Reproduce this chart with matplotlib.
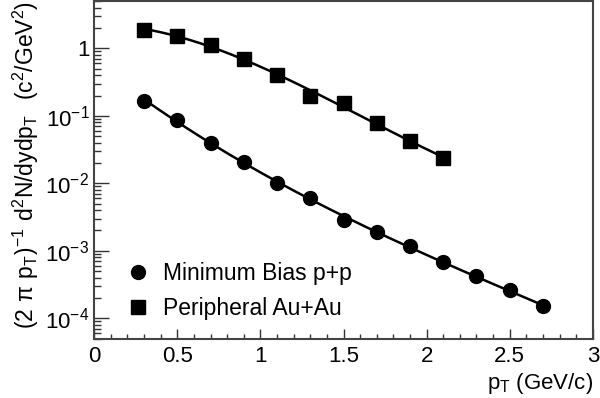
import matplotlib
matplotlib.use("Agg")
import matplotlib.pyplot as plt
from matplotlib.ticker import LogLocator, MultipleLocator, FuncFormatter, NullFormatter
from matplotlib.lines import Line2D
import numpy as np

plt.rcParams['font.family'] = ['Liberation Sans', 'DejaVu Sans']
plt.rcParams['mathtext.default'] = 'regular'

# data
pt_pp = [0.3, 0.5, 0.7, 0.9, 1.1, 1.3, 1.5, 1.7, 1.9, 2.1, 2.3, 2.5, 2.7]
y_pp = [0.164, 0.088, 0.040, 0.0207, 0.0101, 0.0060, 0.0029, 0.0019,
        0.00118, 0.00067, 0.00042, 0.00026, 0.00015]
pt_auau = [0.3, 0.5, 0.7, 0.9, 1.1, 1.3, 1.5, 1.7, 1.9, 2.1]
y_auau = [1.9, 1.5, 1.13, 0.70, 0.40, 0.20, 0.155, 0.077, 0.042, 0.024]

fig = plt.figure(figsize=(6.0, 3.98), dpi=100)
ax = fig.add_axes([0.157, 0.148, 0.831, 0.849])

# smooth fit curves (polynomial in log space) through each set
for xs, ys in [(pt_pp, y_pp), (pt_auau, y_auau)]:
    c = np.polyfit(xs, np.log10(ys), 3)
    xx = np.linspace(xs[0], xs[-1], 200)
    ax.plot(xx, 10 ** np.polyval(c, xx), '-', color='black', lw=1.8)

ax.plot(pt_pp, y_pp, 'o', color='black', ms=10)
ax.plot(pt_auau, y_auau, 's', color='black', ms=9.5)

ax.set_yscale('log')
ax.set_xlim(0, 3)
ax.set_ylim(4.9e-5, 5.0)

ax.xaxis.set_major_locator(MultipleLocator(0.5))
ax.xaxis.set_minor_locator(MultipleLocator(0.1))
ax.yaxis.set_major_locator(LogLocator(base=10, numticks=20))
ax.yaxis.set_minor_locator(LogLocator(base=10, subs=np.arange(2, 10), numticks=20))
ax.yaxis.set_minor_formatter(NullFormatter())


def yfmt(v, pos):
    e = int(round(np.log10(v)))
    if e == 0:
        return '1'
    return r'$10^{%d}$' % e


def xfmt(v, pos):
    return ('%g' % v)


ax.yaxis.set_major_formatter(FuncFormatter(yfmt))
ax.xaxis.set_major_formatter(FuncFormatter(xfmt))

ax.tick_params(which='both', direction='in', top=False, right=False,
               labelsize=16, color='#333333', width=1)
ax.tick_params(axis='y', which='major', length=11)
ax.tick_params(axis='y', which='minor', length=5)
ax.tick_params(axis='x', which='major', length=7, pad=5)
ax.tick_params(axis='x', which='minor', length=3.5)

for s in ax.spines.values():
    s.set_color('#444444')
    s.set_linewidth(1.5)

ax.set_xlabel(r'$p_T$ (GeV/c)', fontsize=16, loc='right', labelpad=3)
ax.set_ylabel(r'$(2\ \pi\ p_T)^{-1}\ d^2N/dydp_T\ \ (c^2/GeV^2)$', fontsize=16.5,
              loc='top', labelpad=3)

handles = [Line2D([], [], ls='none', marker='o', color='black', ms=10),
           Line2D([], [], ls='none', marker='s', color='black', ms=9.5)]
ax.legend(handles, ['Minimum Bias p+p', 'Peripheral Au+Au'],
          loc='lower left', bbox_to_anchor=(0.028, -0.005), frameon=False,
          fontsize=16.5, handlelength=0.8, handletextpad=0.7, labelspacing=0.55)

fig.savefig('out.png', dpi=100)
